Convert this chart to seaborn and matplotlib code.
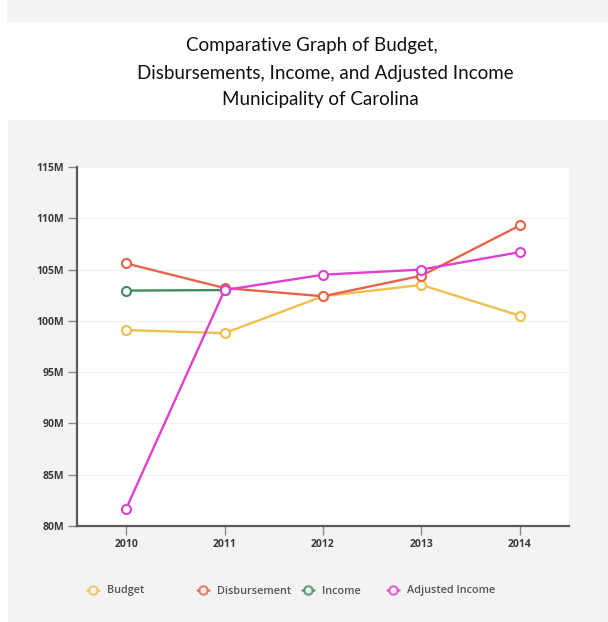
import matplotlib
matplotlib.use("Agg")
import matplotlib.pyplot as plt
from matplotlib.patches import Rectangle
from matplotlib.lines import Line2D
from matplotlib.ticker import FuncFormatter
import seaborn as sns
import pandas as pd

# Yearly figures, in millions of dollars
years = [2010, 2011, 2012, 2013, 2014]
budget = [99.1, 98.8, 102.4, 103.5, 100.5]
disbursement = [105.6, 103.2, 102.4, 104.4, 109.3]
income_years = [2010, 2011]
income = [102.95, 103.0]
adjusted_income = [81.7, 103.0, 104.5, 105.0, 106.7]

series_names = ["Budget", "Disbursement", "Income", "Adjusted Income"]
colors = ["#f0bf4c", "#e8634a", "#3d8c5c", "#e040cf"]
yticks = [80, 85, 90, 95, 100, 105, 110, 115]

rows = []
for name, xs, vals in [
    ("Budget", years, budget),
    ("Disbursement", years, disbursement),
    ("Income", income_years, income),
    ("Adjusted Income", years, adjusted_income),
]:
    for x, v in zip(xs, vals):
        rows.append({"year": x, "value": v, "series": name})
df = pd.DataFrame(rows)
df["pos"] = df["year"].map({y: i for i, y in enumerate(years)})

sns.set_theme(style="white")
plt.rcParams["font.family"] = ["Open Sans", "DejaVu Sans"]

W, H = 608, 622
fig = plt.figure(figsize=(W / 100, H / 100), dpi=100, facecolor="white")

# page background bands
panel = "#f3f3f3"
fig.add_artist(Rectangle((7 / W, 1 - 22 / H), 1, 22 / H, transform=fig.transFigure,
                         facecolor=panel, edgecolor="none", zorder=0))
fig.add_artist(Rectangle((8 / W, 0), 1, (H - 120) / H, transform=fig.transFigure,
                         facecolor=panel, edgecolor="none", zorder=0))

title_font = dict(ha="center", va="center", fontsize=13.5, color="#111111",
                  family=["Lato", "DejaVu Sans"])
fig.text(312 / W, 1 - 45 / H, "Comparative Graph of Budget,", **title_font)
fig.text(325 / W, 1 - 73 / H, "Disbursements, Income, and Adjusted Income", **title_font)
fig.text(320 / W, 1 - 100 / H, "Municipality of Carolina", **title_font)

ax = fig.add_axes([77 / W, (H - 526) / H, (569 - 77) / W, (526 - 167) / H])
ax.set_facecolor("white")

palette = dict(zip(series_names, colors))
for name in series_names:
    sub = df[df["series"] == name]
    sns.lineplot(data=sub, x="pos", y="value", color=palette[name], ax=ax,
                 linewidth=1.7, marker="o", markersize=6.5, markerfacecolor="white",
                 markeredgecolor=palette[name], markeredgewidth=1.5, sort=False,
                 legend=False, zorder=3)

ax.set_xlim(-0.5, 4.5)
ax.set_ylim(80, 115)
ax.set_xticks(range(len(years)))
ax.set_xticklabels([str(y) for y in years])
ax.set_yticks(yticks)
ax.yaxis.set_major_formatter(FuncFormatter(lambda v, p: f"{v:.0f}M"))
ax.set_xlabel("")
ax.set_ylabel("")
ax.grid(axis="y", color="#f1f1f1", linewidth=0.9)
ax.grid(axis="x", visible=False)

for side in ["top", "right"]:
    ax.spines[side].set_visible(False)
for side in ["left", "bottom"]:
    ax.spines[side].set_color("#5a5a5a")
    ax.spines[side].set_linewidth(1.6)

ax.tick_params(axis="both", which="major", length=6.5, width=1.0, color="#888888",
               labelsize=7.5, labelcolor="#3a3a3a", pad=3, left=True, bottom=True)
for lab in ax.get_xticklabels() + ax.get_yticklabels():
    lab.set_fontweight("bold")

# legend entries laid out along the bottom of the panel
legend_x = [93, 203, 308, 393]
for name, xpx in zip(series_names, legend_x):
    handle = Line2D([], [], color=palette[name], linewidth=1.8, marker="o", markersize=6,
                    markerfacecolor="white", markeredgecolor=palette[name],
                    markeredgewidth=1.6, alpha=0.8)
    leg = fig.legend([handle], [name], loc="center left",
                     bbox_to_anchor=((xpx - 6) / W, 1 - 591 / H), frameon=False,
                     handlelength=1.1, handletextpad=0.75, borderaxespad=0, borderpad=0,
                     prop={"size": 7.8, "weight": "semibold"})
    for t in leg.get_texts():
        t.set_color("#555555")

fig.savefig("out.png", dpi=100, facecolor="white")
